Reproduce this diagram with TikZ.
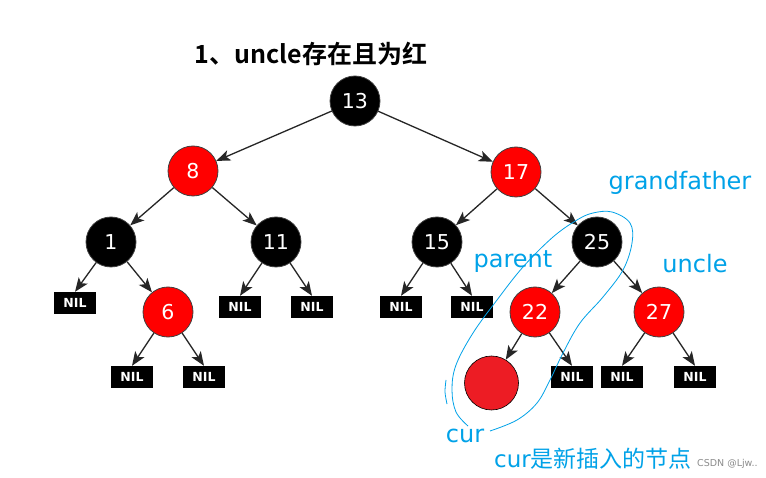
\documentclass[tikz,border=0pt]{standalone}
\usepackage{fontspec}
\setmainfont{DejaVu Sans}
\newfontfamily\cjk{Noto Sans CJK SC}
\newfontfamily\cjkb{Noto Sans CJK SC Bold}
\usetikzlibrary{arrows.meta}
\definecolor{rbred}{RGB}{255,0,0}
\definecolor{curred}{RGB}{237,28,36}
\definecolor{lblue}{RGB}{0,162,232}
\begin{document}
\begin{tikzpicture}[x=1pt,y=-1pt,
  rbnode/.style={circle,minimum size=50pt,inner sep=0pt,draw=black!75,line width=0.8pt,
    text=white,font=\fontsize{20.5}{20.5}\selectfont},
  blkn/.style={rbnode,fill=black},
  redn/.style={rbnode,fill=rbred},
  nil/.style={rectangle,fill=black,minimum width=42pt,minimum height=22pt,inner sep=0pt,
    text=white,font=\bfseries\fontsize{12.5}{12.5}\selectfont},
  edge/.style={draw=black!85,line width=1.3pt,-{Stealth[length=14pt,width=11pt,inset=3.5pt]}},
  lbl/.style={text=lblue,inner sep=0pt,font=\fontsize{24}{24}\selectfont},
  loop/.style={draw=lblue,line width=0.8pt}
]
\useasboundingbox (0,0) rectangle (766,478);
\fill[white] (0,0) rectangle (766,478);

% title
\node[inner sep=0pt,font=\cjkb\fontsize{25}{25}\selectfont] (title) at (311,54) {1、uncle存在且为红};

% tree nodes
\node[blkn] (n13) at (355,101) {13};
\node[redn] (n8) at (193,171) {8};
\node[redn] (n17) at (516,172) {17};
\node[blkn] (n1) at (111,242) {1};
\node[blkn] (n11) at (276,242) {11};
\node[blkn] (n15) at (437,242) {15};
\node[blkn] (n25) at (597,242) {25};
\node[redn] (n6) at (168,312) {6};
\node[redn] (n22) at (535,312) {22};
\node[redn] (n27) at (659,312) {27};
\node[circle,minimum size=54pt,inner sep=0pt,fill=curred,draw=black,line width=0.6pt] (cur) at (491.5,383) {};

% NIL leaves
\node[nil] (nA) at (75,303) {NIL};
\node[nil] (nB) at (132,377) {NIL};
\node[nil] (nC) at (204,377) {NIL};
\node[nil] (nD) at (240,307) {NIL};
\node[nil] (nE) at (312,307) {NIL};
\node[nil] (nF) at (401,307) {NIL};
\node[nil] (nG) at (472,307) {NIL};
\node[nil] (nH) at (572,377) {NIL};
\node[nil] (nI) at (622,377) {NIL};
\node[nil] (nJ) at (695,377) {NIL};

% edges
\draw[edge] (n13) -- (n8);
\draw[edge] (n13) -- (n17);
\draw[edge] (n8) -- (n1);
\draw[edge] (n8) -- (n11);
\draw[edge] (n1) -- (nA.north);
\draw[edge] (n1) -- (n6);
\draw[edge] (n6) -- (nB.north);
\draw[edge] (n6) -- (nC.north);
\draw[edge] (n11) -- (nD.north);
\draw[edge] (n11) -- (nE.north);
\draw[edge] (n17) -- (n15);
\draw[edge] (n17) -- (n25);
\draw[edge] (n15) -- (nF.north);
\draw[edge] (n15) -- (nG.north);
\draw[edge] (n25) -- (n22);
\draw[edge] (n25) -- (n27);
\draw[edge] (n22) -- (cur);
\draw[edge] (n22) -- (nH.north);
\draw[edge] (n27) -- (nI.north);
\draw[edge] (n27) -- (nJ.north);

% blue annotations
\draw[loop] plot[smooth,tension=0.6] coordinates {(490,431) (517,420) (537,403) (550,380) (563,353) (580,323) (603,297) (623,270) (632,243) (630,223) (612,212) (593,213) (577,220) (553,237) (523,267) (497,300) (473,333) (456,365) (452,390) (456,412) (468,426)};
\draw[loop] plot[smooth] coordinates {(446,380) (445,392) (447,404)};

\node[lbl] (gf) at (680,183) {grandfather};
\node[lbl] (par) at (513,262) {parent};
\node[lbl] (unc) at (695,264) {uncle};
\node[lbl] (curl) at (465,436) {cur};
\node[lbl,font=\fontsize{23}{23}\selectfont] (note) at (593,459) {cur{\cjk 是新插入的节点}};

\node[text=black!45,inner sep=0pt,anchor=west,font=\fontsize{9.5}{9.5}\selectfont] (csdn) at (697,464) {CSDN @Ljw..};
\end{tikzpicture}
\end{document}
